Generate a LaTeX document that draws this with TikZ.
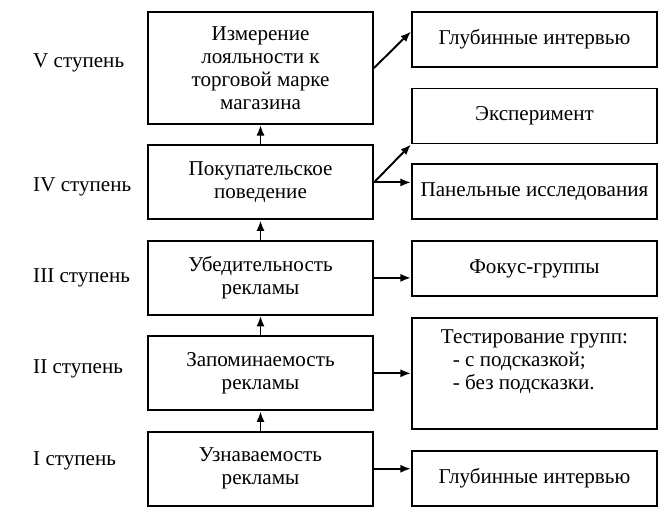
\documentclass[tikz,border=0pt]{standalone}
\usepackage{fontspec}
\setmainfont{Liberation Serif}
\usepackage{tikz}
\usetikzlibrary{arrows.meta, positioning, calc}

\begin{document}
\begin{tikzpicture}[node distance=0.39cm, auto, >={Latex[length=6pt,width=4.6pt]}]
        \tikzstyle{stage_style} = [rectangle, minimum width=4.5cm, minimum height=1.48cm, text centered, align=center, draw=black, line width=1.1pt, font=\fontsize{12}{13}\selectfont]
        \tikzstyle{method_style} = [rectangle, minimum width=4.9cm, minimum height=1.1cm, text centered, align=center, draw=black, line width=1.1pt, font=\fontsize{12}{13}\selectfont]
        \tikzstyle{level_style} = [font=\fontsize{12}{13}\selectfont]
        \tikzstyle{arrow_up} = [line width=1.1pt, ->]
        \tikzstyle{arrow_side} = [line width=1.1pt, ->]

        \useasboundingbox (0,0) rectangle (13.34,-10.18);

        % Stages of the model
        \node (l5) [stage_style, minimum height=2.24cm] at (5.21,-1.36) {Измерение\\лояльности к\\торговой марке\\магазина};
        \node (l4) [stage_style, below=of l5] {Покупательское\\поведение};
        \node (l3) [stage_style, below=of l4] {Убедительность\\рекламы};
        \node (l2) [stage_style, below=of l3] {Запоминаемость\\рекламы};
        \node (l1) [stage_style, below=of l2] {Узнаваемость\\рекламы};

        % Level names
        \node (n5) [level_style, left=2.4cm of l5.west, anchor=west, yshift=0.1cm] {V ступень};
        \node (n4) [level_style, left=2.4cm of l4.west, anchor=west, yshift=-0.08cm] {IV ступень};
        \node (n3) [level_style, left=2.4cm of l3.west, anchor=west] {III ступень};
        \node (n2) [level_style, left=2.4cm of l2.west, anchor=west, yshift=0.08cm] {II ступень};
        \node (n1) [level_style, left=2.4cm of l1.west, anchor=west, yshift=0.16cm] {I ступень};

        % Research methods
        \node (r5) [method_style, right=0.74cm of l5.north east, anchor=north west] {Глубинные интервью};
        \node (r4a) [method_style, right=0.74cm of l4.north east, anchor=south west] {Эксперимент};
        \node (r4b) [method_style, right=0.74cm of l4.south east, anchor=south west] {Панельные исследования};
        \node (r3) [method_style, right=0.74cm of l3.north east, anchor=north west] {Фокус-группы};
        \node (r2) [method_style, minimum height=2.22cm, align=left, right=0.74cm of l2] {Тестирование групп:\\\hspace*{0.24cm}- с подсказкой;\\\hspace*{0.24cm}- без подсказки.\\[0.1cm]};
        \node (r1) [method_style, right=0.74cm of l1.south east, anchor=south west] {Глубинные интервью};

        % Arrows: stage to stage
        \draw [arrow_up] (l1) -- (l2);
        \draw [arrow_up] (l2) -- (l3);
        \draw [arrow_up] (l3) -- (l4);
        \draw [arrow_up] (l4) -- (l5);

        % Arrows: stage to method
        \draw [arrow_side] (l5.east) -- ([yshift=0.16cm]r5.west);
        \draw [arrow_side] (l4.east) -- (r4a.south west);
        \draw [arrow_side] (l4.east) -- (l4.east -| r4b.west);
        \draw [arrow_side] (l3.east) -- (l3.east -| r3.west);
        \draw [arrow_side] (l2) -- (r2);
        \draw [arrow_side] (l1.east) -- (l1.east -| r1.west);
    \end{tikzpicture}
\end{document}
